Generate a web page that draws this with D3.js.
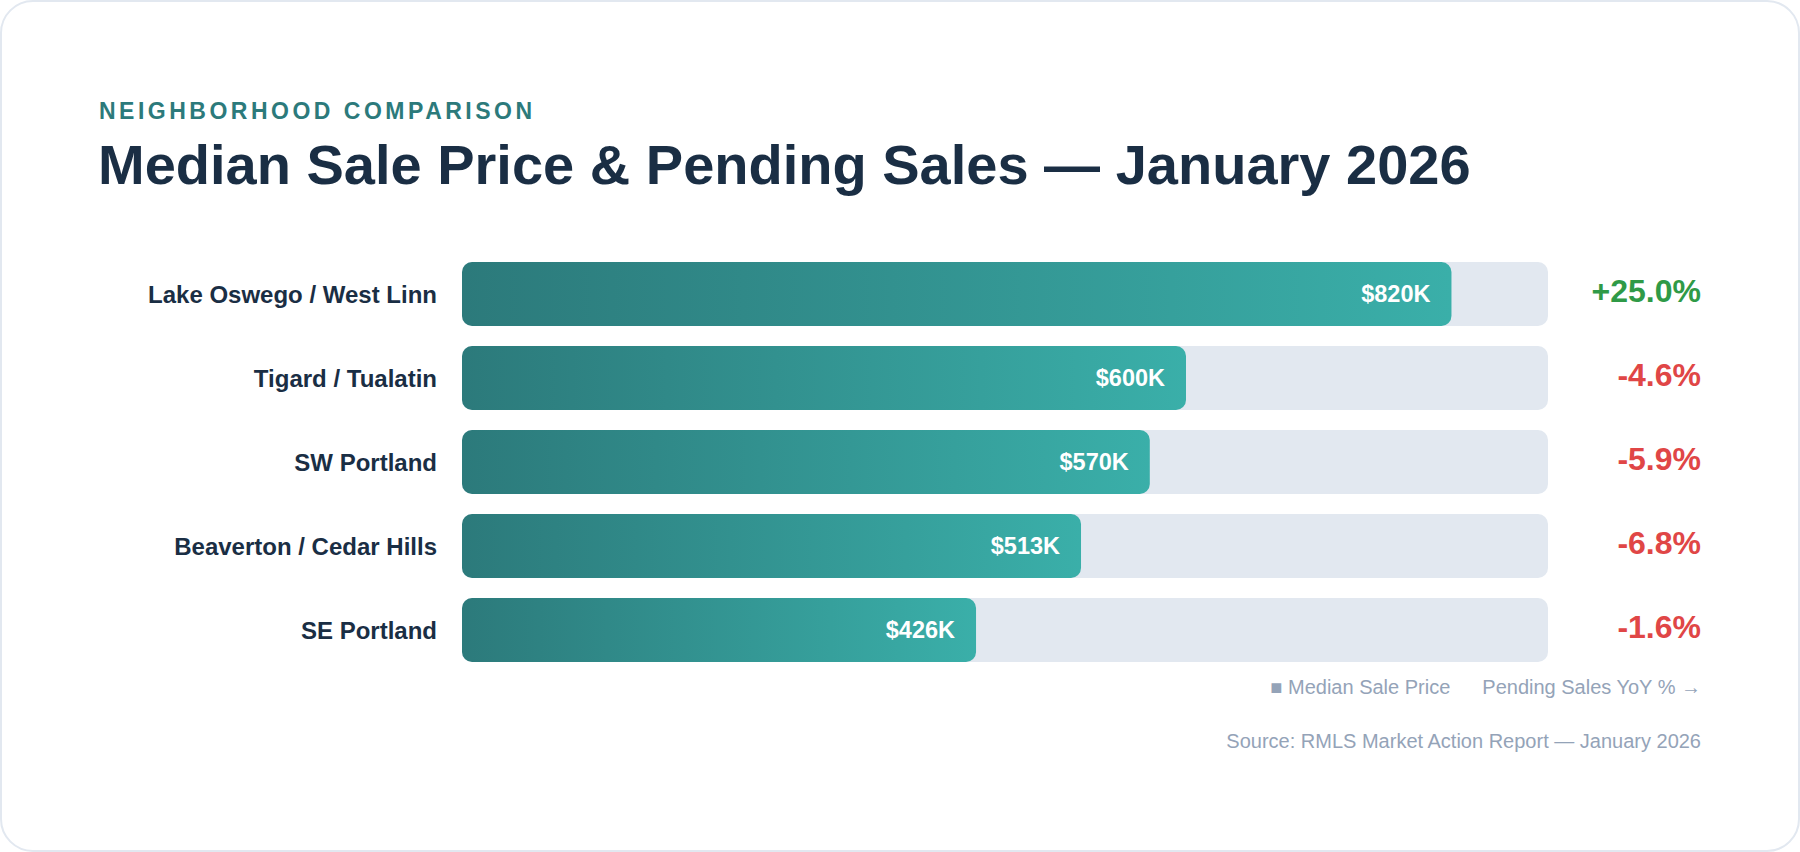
<!DOCTYPE html>
<html lang="en">
<head>
    <meta charset="utf-8">
    <title>Neighborhood Comparison</title>
    <script src="https://d3js.org/d3.v7.min.js"></script>
    <style>
        html, body { margin: 0; padding: 0; background: #fff; }
        svg { display: block; font-family: "Liberation Sans", Arial, sans-serif; }
    </style>
</head>
<body>
    <script type="text/javascript">
        var w = 1800;
        var h = 852;

        var neighborhoods = ["Lake Oswego / West Linn", "Tigard / Tualatin", "SW Portland", "Beaverton / Cedar Hills", "SE Portland"];
        var medianPrice = [820, 600, 570, 513, 426];      // $K
        var pendingYoY = [25.0, -4.6, -5.9, -6.8, -1.6];   // %
        var priceMax = 900;

        var rows = neighborhoods.map(function (n, i) {
            return { name: n, price: medianPrice[i], yoy: pendingYoY[i] };
        });

        var svg = d3.select("body").append("svg")
            .attr("width", w).attr("height", h);

        var defs = svg.append("defs");
        var grad = defs.append("linearGradient").attr("id", "barGrad")
            .attr("x1", "0%").attr("x2", "100%").attr("y1", "0%").attr("y2", "0%");
        grad.append("stop").attr("offset", "0%").attr("stop-color", "#2c7a7b");
        grad.append("stop").attr("offset", "100%").attr("stop-color", "#3aafa9");

        // card
        svg.append("rect")
            .attr("x", 1).attr("y", 1).attr("width", w - 2).attr("height", h - 2)
            .attr("rx", 32).attr("fill", "#fff")
            .attr("stroke", "#e2e8f0").attr("stroke-width", 2);

        // header
        svg.append("text")
            .attr("x", 99).attr("y", 119)
            .attr("fill", "#2c7a7b").attr("font-size", 23).attr("font-weight", 700)
            .attr("letter-spacing", "3.5px")
            .text("NEIGHBORHOOD COMPARISON");

        svg.append("text")
            .attr("x", 98).attr("y", 184)
            .attr("fill", "#1a2e44").attr("font-size", 56).attr("font-weight", 700)
            .text("Median Sale Price & Pending Sales — January 2026");

        // scales
        var x = d3.scaleLinear().domain([0, priceMax]).range([462, 1548]);
        var y = d3.scaleBand().domain(neighborhoods)
            .range([262, 662]).paddingInner(20 / 84).paddingOuter(0);

        var row = svg.selectAll("g.row").data(rows).enter().append("g")
            .attr("class", "row")
            .attr("transform", function (d) { return "translate(0," + y(d.name) + ")"; });

        // track
        row.append("rect")
            .attr("x", x(0)).attr("y", 0)
            .attr("width", x(priceMax) - x(0)).attr("height", y.bandwidth())
            .attr("rx", 10).attr("fill", "#e2e8f0");

        // bar
        row.append("rect")
            .attr("x", x(0)).attr("y", 0)
            .attr("width", function (d) { return x(d.price) - x(0); })
            .attr("height", y.bandwidth())
            .attr("rx", 10).attr("fill", "url(#barGrad)");

        // neighborhood labels
        row.append("text")
            .attr("x", x(0) - 25).attr("y", y.bandwidth() / 2)
            .attr("dy", "0.36em").attr("text-anchor", "end")
            .attr("fill", "#1a2e44").attr("font-size", 24).attr("font-weight", 700)
            .text(function (d) { return d.name; });

        // value labels inside bars
        row.append("text")
            .attr("x", function (d) { return x(d.price) - 21; })
            .attr("y", y.bandwidth() / 2)
            .attr("dy", "0.36em").attr("text-anchor", "end")
            .attr("fill", "#fff").attr("font-size", 23.5).attr("font-weight", 700)
            .text(function (d) { return "$" + d.price + "K"; });

        // pending sales YoY
        row.append("text")
            .attr("x", 1701).attr("y", y.bandwidth() / 2 + 8)
            .attr("text-anchor", "end")
            .attr("fill", function (d) { return d.yoy >= 0 ? "#2f9a47" : "#e04646"; })
            .attr("font-size", 32).attr("font-weight", 700)
            .text(function (d) { return (d.yoy >= 0 ? "+" : "") + d.yoy.toFixed(1) + "%"; });

        // legend
        var legend = svg.append("text")
            .attr("x", 1701).attr("y", 694).attr("text-anchor", "end")
            .attr("fill", "#94a3b8").attr("font-size", 20);
        legend.append("tspan").text("■ Median Sale Price");
        legend.append("tspan").attr("dx", 32).text("Pending Sales YoY % →");

        // source
        svg.append("text")
            .attr("x", 1701).attr("y", 748).attr("text-anchor", "end")
            .attr("fill", "#94a3b8").attr("font-size", 20)
            .text("Source: RMLS Market Action Report — January 2026");
    </script>
</body>
</html>
